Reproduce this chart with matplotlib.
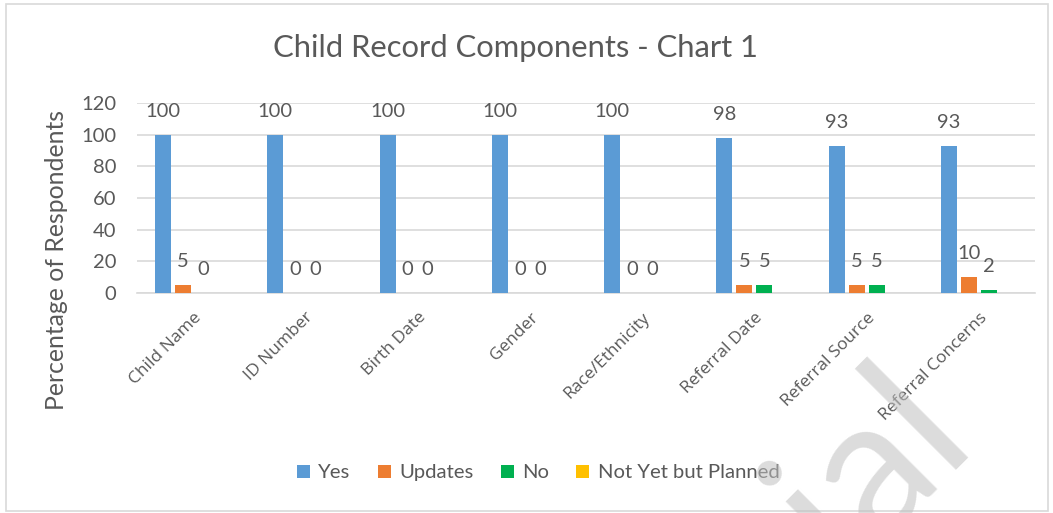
import numpy as np
import matplotlib
matplotlib.use('Agg')
import matplotlib.pyplot as plt
from matplotlib.patches import Rectangle

# data
categories = ['Child Name', 'ID Number', 'Birth Date', 'Gender', 'Race/Ethnicity',
              'Referral Date', 'Referral Source', 'Referral Concerns']
yes = [100, 100, 100, 100, 100, 98, 93, 93]
updates = [5, 0, 0, 0, 0, 5, 5, 10]
no = [0, 0, 0, 0, 0, 5, 5, 2]
planned = [np.nan] * 8

series_names = ['Yes', 'Updates', 'No', 'Not Yet but Planned']
colors = ['#5B9BD5', '#ED7D31', '#00B050', '#FFC000']
txt = '#595959'

plt.rcParams['font.family'] = ['Lato', 'DejaVu Sans']

fig = plt.figure(figsize=(10.53, 5.13), dpi=100)
ax = fig.add_axes([0.130, 0.429, 0.853, 0.370])

x = np.arange(len(categories))
pitch = 0.178
width = 0.1425
all_series = [yes, updates, no, planned]
for i, (vals, name, c) in enumerate(zip(all_series, series_names, colors)):
    pos = x + (i - 1.5) * pitch
    v = np.array(vals, dtype=float)
    ax.bar(pos, v, width=width, color=c, label=name, zorder=3)
    for px, pv in zip(pos, v):
        if np.isnan(pv):
            continue
        ax.annotate('%d' % pv, (px, pv), xytext=(0, 17), textcoords='offset points',
                    ha='center', va='center', fontsize=14.5, color=txt)

ax.set_xlim(-0.5, len(categories) - 0.5)
ax.set_ylim(0, 120)
ax.set_yticks(range(0, 121, 20))
ax.yaxis.grid(True, color='#D9D9D9', linewidth=1.2, zorder=0)
ax.set_axisbelow(True)
for s in ['top', 'right', 'left']:
    ax.spines[s].set_visible(False)
ax.spines['bottom'].set_color('#D9D9D9')
ax.spines['bottom'].set_linewidth(1.2)
ax.tick_params(axis='both', length=0, colors=txt)
ax.tick_params(axis='y', labelsize=14.5, pad=15)
ax.set_xticks(x)
ax.set_xticklabels(categories, rotation=45, ha='right', rotation_mode='anchor',
                   fontsize=12.5, color=txt, family=['Open Sans', 'DejaVu Sans'])
ax.tick_params(axis='x', pad=12)

fig.text(0.054, 0.494, 'Percentage of Respondents', rotation=90, ha='center',
         va='center', fontsize=17.8, color=txt)
fig.text(0.49, 0.906, 'Child Record Components - Chart 1', ha='center', va='center',
         fontsize=22.3, color=txt)

leg = fig.legend(loc='center', bbox_to_anchor=(0.511, 0.078), ncol=4, frameon=False,
                 fontsize=14.6, handlelength=0.65, handleheight=0.65, handletextpad=0.4,
                 columnspacing=1.35)
for t in leg.get_texts():
    t.set_color(txt)

# outer chart border
fig.patches.append(Rectangle((6 / 1053, 1 - 511 / 513), 1042 / 1053, 507 / 513,
                             transform=fig.transFigure, fill=False,
                             edgecolor='#D9D9D9', linewidth=1.2))

# watermark
fig.text(0.925, 0.15, 'Unofficial', rotation=45, rotation_mode='anchor',
         ha='right', va='baseline', fontsize=140, color='#BFBFBF', alpha=0.55,
         zorder=10)

fig.savefig('out.png', dpi=100)
